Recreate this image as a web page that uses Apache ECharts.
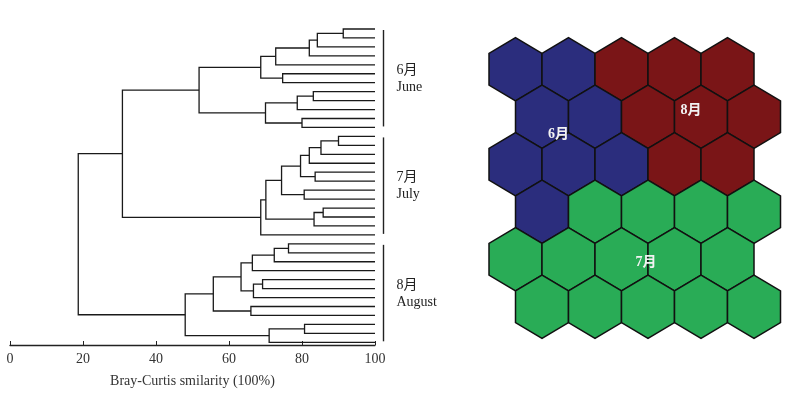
<!DOCTYPE html>
<html>
<head>
<meta charset="utf-8">
<script src="https://cdn.jsdelivr.net/npm/echarts@6/dist/echarts.min.js"></script>
<style>
html, body { margin: 0; padding: 0; background: #fff; }
#main { width: 800px; height: 396px; }
</style>
</head>
<body>
<div id="main"></div>
<script>
// 36 samples, top to bottom; 12 per month
var months = ['6月', '7月', '8月'];
var monthNames = ['June', 'July', 'August'];
var groupLeaves = [[0, 11], [12, 23], [24, 35]];
var nLeaves = 36;

// clustering steps: [child A, child B, similarity %]
// ids 0..35 are samples, 36+ are previous steps in order
var merges = [
    // June
    [0, 1, 91.3], [36, 2, 84.2], [37, 3, 82.0], [38, 4, 72.8],
    [5, 6, 74.7], [39, 40, 68.7],
    [7, 8, 83.1], [42, 9, 78.7], [10, 11, 80.0], [43, 44, 70.0],
    [41, 45, 51.8],
    // July
    [12, 13, 90.0], [47, 14, 85.2], [48, 15, 82.0], [16, 17, 83.6],
    [49, 50, 79.6], [18, 19, 80.6], [51, 52, 74.4],
    [20, 21, 85.8], [54, 22, 83.3], [53, 55, 70.1], [56, 23, 68.7],
    // June + July
    [46, 57, 30.8],
    // August
    [24, 25, 76.3], [59, 26, 72.4], [60, 27, 66.4],
    [28, 29, 69.2], [62, 30, 66.7], [61, 63, 63.3],
    [31, 32, 66.0], [64, 65, 55.7],
    [33, 34, 80.7], [67, 35, 71.0], [66, 68, 48.0],
    // all
    [58, 69, 18.7]
];

// SOM map, 6 rows x 5 columns, value = month index of the cluster
var somRows = [
    [0, 0, 2, 2, 2],
    [0, 0, 2, 2, 2],
    [0, 0, 0, 2, 2],
    [0, 1, 1, 1, 1],
    [1, 1, 1, 1, 1],
    [1, 1, 1, 1, 1]
];

var clusterColors = ['#2B2D7D', '#29AC56', '#7A1517'];
var serif = '"Liberation Serif", "Times New Roman", "Noto Sans CJK SC", serif';

// dendrogram brackets
var nodeY = [], nodeH = [];
for (var i = 0; i < nLeaves; i++) { nodeY[i] = i; nodeH[i] = 100; }
var bracketData = merges.map(function (m, k) {
    var a = m[0], b = m[1];
    nodeY[nLeaves + k] = (nodeY[a] + nodeY[b]) / 2;
    nodeH[nLeaves + k] = m[2];
    return [m[2], nodeY[a], nodeY[b], nodeH[a], nodeH[b]];
});

// hex cells
var hexData = [];
var sums = months.map(function () { return [0, 0, 0]; });
somRows.forEach(function (row, r) {
    row.forEach(function (c, col) {
        var x = col + (r % 2 ? 0.5 : 0);
        hexData.push([x, r, c]);
        sums[c][0] += x; sums[c][1] += r; sums[c][2]++;
    });
});
var clusterLabels = sums.map(function (s, i) { return [s[0] / s[2], s[1] / s[2], i]; });

var chart = echarts.init(document.getElementById('main'));

chart.setOption({
    animation: false,
    grid: [
        { left: 10, width: 365, top: 26.3, height: 318.7 },
        { left: 489, width: 291.5, top: 37.6, height: 300.8 }
    ],
    xAxis: [
        {
            gridIndex: 0, type: 'value', min: 0, max: 100, interval: 20, position: 'bottom',
            name: 'Bray-Curtis smilarity (100%)', nameLocation: 'middle', nameGap: 29,
            nameTextStyle: { fontFamily: serif, fontSize: 14, color: '#333' },
            axisLine: { onZero: false, lineStyle: { color: '#222', width: 1.3 } },
            axisTick: { inside: true, length: 4, lineStyle: { color: '#222' } },
            axisLabel: { fontFamily: serif, fontSize: 14, color: '#333', margin: 7 },
            splitLine: { show: false }
        },
        { gridIndex: 1, type: 'value', min: -0.5, max: 5, show: false }
    ],
    yAxis: [
        { gridIndex: 0, type: 'value', min: -0.3, max: 35.3, inverse: true, show: false },
        { gridIndex: 1, type: 'value', min: -2 / 3, max: 17 / 3, inverse: true, show: false }
    ],
    series: [
        {
            type: 'custom',
            xAxisIndex: 0, yAxisIndex: 0,
            data: bracketData,
            encode: { x: [0, 3, 4], y: [1, 2] },
            renderItem: function (params, api) {
                var h = api.value(0), ya = api.value(1), yb = api.value(2);
                var pts = [
                    api.coord([api.value(3), ya]),
                    api.coord([h, ya]),
                    api.coord([h, yb]),
                    api.coord([api.value(4), yb])
                ];
                return {
                    type: 'polyline',
                    shape: { points: pts },
                    style: { stroke: '#1a1a1a', lineWidth: 1.3, fill: null }
                };
            }
        },
        {
            type: 'custom',
            xAxisIndex: 0, yAxisIndex: 0,
            clip: false,
            data: groupLeaves.map(function (g, i) { return [100, g[0], g[1], i]; }),
            encode: { x: 0, y: [1, 2] },
            renderItem: function (params, api) {
                var top = api.coord([100, api.value(1)]);
                var bot = api.coord([100, api.value(2)]);
                var x = top[0] + 8.5;
                var mid = (top[1] + bot[1]) / 2;
                var k = api.value(3);
                return {
                    type: 'group',
                    children: [
                        {
                            type: 'line',
                            shape: { x1: x, y1: top[1] + 1, x2: x, y2: bot[1] - 1 },
                            style: { stroke: '#222', lineWidth: 1.4 }
                        },
                        {
                            type: 'text',
                            style: {
                                x: x + 13, y: mid - 8, text: months[k],
                                font: '14px ' + serif, fill: '#222',
                                textAlign: 'left', textVerticalAlign: 'middle'
                            }
                        },
                        {
                            type: 'text',
                            style: {
                                x: x + 13, y: mid + 9, text: monthNames[k],
                                font: '14px ' + serif, fill: '#222',
                                textAlign: 'left', textVerticalAlign: 'middle'
                            }
                        }
                    ]
                };
            }
        },
        {
            type: 'custom',
            xAxisIndex: 1, yAxisIndex: 1,
            data: hexData,
            encode: { x: 0, y: 1 },
            renderItem: function (params, api) {
                var c = api.coord([api.value(0), api.value(1)]);
                var s = api.size([1, 1]);
                var hw = s[0] / 2, tip = s[1] * 2 / 3, sh = s[1] / 3;
                return {
                    type: 'polygon',
                    shape: {
                        points: [
                            [c[0], c[1] - tip], [c[0] + hw, c[1] - sh], [c[0] + hw, c[1] + sh],
                            [c[0], c[1] + tip], [c[0] - hw, c[1] + sh], [c[0] - hw, c[1] - sh]
                        ]
                    },
                    style: { fill: clusterColors[api.value(2)], stroke: '#111', lineWidth: 1.5 }
                };
            }
        },
        {
            type: 'custom',
            xAxisIndex: 1, yAxisIndex: 1,
            data: clusterLabels,
            encode: { x: 0, y: 1 },
            z: 5,
            renderItem: function (params, api) {
                var c = api.coord([api.value(0), api.value(1)]);
                return {
                    type: 'text',
                    style: {
                        x: c[0], y: c[1], text: months[api.value(2)],
                        font: 'bold 14px ' + serif, fill: '#f2f2f2',
                        textAlign: 'center', textVerticalAlign: 'middle'
                    }
                };
            }
        }
    ]
});
</script>
</body>
</html>
